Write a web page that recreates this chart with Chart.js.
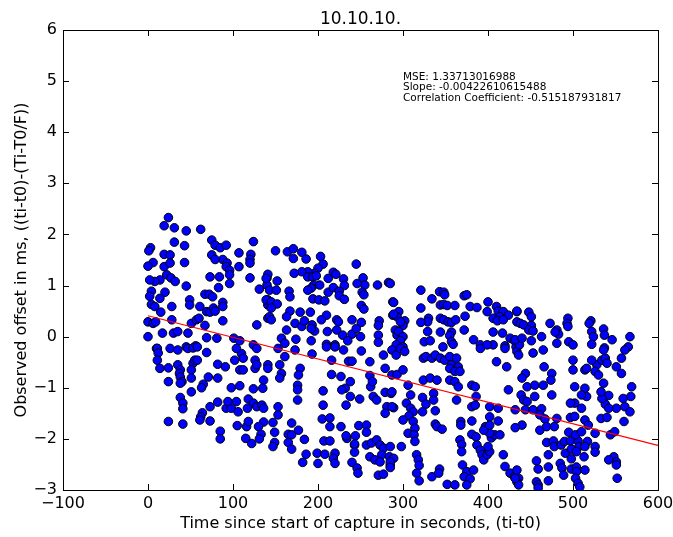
<!DOCTYPE html>
<html>
<head>
<meta charset="utf-8">
<script src="https://cdn.jsdelivr.net/npm/chart.js@4"></script>
<style>
  html, body { margin: 0; padding: 0; background: #fff; overflow: hidden; }
  #wrap { width: 673px; height: 537px; }
  canvas { display: block; }
</style>
</head>
<body>
<div id="wrap"><canvas id="offsetChart" width="673" height="537"></canvas></div>
<script>
// observed offsets: [time since start (s), offset (ms)]
const samples = [
  [24,2.33],[19,2.17],[31,2.13],[45,2.07],[62,2.10],[75,1.89],[79,1.79],[85,1.74],[92,1.79],[31,1.85],
  [43,1.78],[3,1.74],[19,1.61],[26,1.60],[75,1.60],[107,1.64],[124,1.86],[121,1.61],[88,1.51],[93,1.44],
  [79,1.51],[120,1.51],[120,1.44],[6,1.45],[0,1.38],[19,1.37],[26,1.44],[43,1.45],[92,1.37],[96,1.30],
  [107,1.37],[22,1.21],[27,1.15],[14,1.11],[8,1.08],[2,1.11],[32,1.08],[45,0.99],[73,1.17],[84,1.17],
  [96,1.21],[96,1.04],[120,1.15],[140,1.15],[140,1.01],[131,0.93],[83,0.96],[67,0.83],[72,0.83],[76,0.78],
  [4,0.89],[20,0.87],[14,0.75],[49,0.72],[49,0.62],[61,0.59],[69,0.49],[73,0.48],[88,0.67],[88,0.59],
  [77,0.56],[79,0.50],[141,0.72],[141,0.62],[4,0.63],[8,0.59],[28,0.59],[15,0.48],[0,0.29],[6,0.26],
  [9,0.29],[28,0.33],[51,0.26],[57,0.33],[60,0.36],[67,0.22],[88,0.31],[128,0.23],[141,0.36],[0,0],
  [17,0.07],[30,0.07],[35,0.10],[47,0.07],[69,-0.02],[81,-0.03],[101,-0.03],[108,-0.08],[10,-0.23],[26,-0.23],
  [45,-0.20],[56,-0.18],[124,-0.16],[128,-0.23],[1,1.68],[2,0.79],
  [11,-0.23],[12,-0.32],[11,-0.46],[14,-0.62],[35,-0.26],[47,-0.23],[53,-0.22],[58,-0.20],[69,-0.31],[24,-0.61],
  [35,-0.55],[38,-0.65],[37,-0.72],[38,-0.79],[40,-0.88],[38,-0.91],[53,-0.52],[55,-0.46],[51,-0.65],[51,-0.81],
  [58,-0.46],[24,-0.88],[71,-0.79],[65,-0.93],[63,-1.00],[82,-0.54],[91,-0.59],[82,-0.81],[51,-1.08],[38,-1.19],
  [41,-1.30],[41,-1.41],[73,-1.37],[64,-1.49],[62,-1.57],[61,-1.63],[73,-1.65],[24,-1.66],[41,-1.71],[82,-1.28],
  [85,-1.85],[85,-2.00],[98,-1.00],[108,-0.96],[102,-0.46],[110,-0.33],[112,-0.42],[108,-0.65],[112,-0.65],[104,-0.23],
  [126,-0.46],[126,-0.62],[128,-0.55],[136,-0.85],[124,-1.02],[135,-1.01],[92,-1.40],[98,-1.40],[104,-1.27],[106,-1.47],
  [94,-1.27],[118,-1.22],[124,-1.30],[128,-1.37],[134,-1.34],[136,-1.40],[117,-1.40],[136,-1.67],[130,-1.76],[116,-1.76],
  [118,-1.66],[105,-1.74],[133,-1.91],[131,-2.00],[122,-2.09],[115,-1.99],
  [150,1.68],[164,1.66],[171,1.72],[171,1.53],[181,1.65],[186,1.52],[203,1.57],[206,1.42],[200,1.34],[196,1.24],
  [188,1.27],[181,1.27],[172,1.24],[188,1.17],[194,1.17],[198,1.19],[212,1.14],[218,1.26],[221,1.22],[230,1.13],
  [231,1.00],[245,1.42],[253,1.15],[255,1.01],[246,1.04],[270,1.01],[283,1.06],[195,1.01],[202,1.01],[192,0.95],
  [188,0.91],[212,0.87],[218,0.96],[225,0.89],[225,0.80],[143,0.91],[151,0.91],[152,1.09],[141,1.22],[139,1.14],
  [166,0.89],[167,0.78],[139,0.72],[145,0.68],[152,0.64],[194,0.74],[201,0.72],[208,0.70],[231,0.73],[252,0.87],
  [254,0.82],[251,0.61],[254,0.54],[288,0.68],[288,0.42],[145,0.56],[167,0.50],[179,0.48],[191,0.48],[210,0.42],
  [204,0.33],[222,0.33],[224,0.29],[240,0.33],[251,0.28],[272,0.31],[271,0.22],[163,0.39],[173,0.26],[181,0.20],
  [184,0.31],[193,0.23],[196,0.11],[192,0.16],[143,0.39],[145,0.33],[163,0.13],[211,0.10],[222,0.13],[229,0.03],
  [240,0.05],[245,0.16],[250,0],[271,0.03],[271,-0.11],[174,-0.05],[192,-0.08],[157,-0.03],[161,-0.13],[210,-0.15],
  [220,-0.16],[235,-0.08],
  [153,-0.23],[161,-0.39],[173,-0.26],[193,-0.34],[210,-0.20],[220,-0.20],[230,-0.26],[251,-0.28],[141,-0.55],[141,-0.62],
  [155,-0.55],[157,-0.72],[155,-0.81],[179,-0.62],[177,-0.75],[176,-0.95],[176,-1.04],[176,-1.24],[216,-0.46],[216,-0.74],
  [227,-0.78],[236,-0.48],[240,-0.48],[238,-0.88],[232,-1.01],[228,-1.04],[238,-1.17],[233,-1.34],[249,-1.22],[261,-0.49],
  [261,-0.76],[262,-0.98],[265,-1.17],[269,-1.24],[264,-0.88],[277,-0.36],[279,-0.62],[279,-1.09],[281,-1.37],[279,-1.50],
  [286,-1.11],[289,-1.39],[206,-1.06],[206,-1.34],[205,-1.61],[214,-1.59],[214,-1.76],[227,-1.76],[234,-1.99],[244,-1.94],
  [243,-2.12],[248,-1.74],[257,-1.73],[257,-1.87],[153,-1.37],[153,-1.53],[147,-1.68],[149,-1.87],[149,-2.07],[147,-2.15],
  [169,-1.69],[165,-1.91],[169,-1.92],[165,-2.07],[169,-2.20],[177,-1.83],[184,-2.01],[207,-2.04],[214,-2.04],[186,-2.30],
  [199,-2.28],[208,-2.30],[220,-2.28],[218,-2.38],[220,-2.48],[200,-2.48],[182,-2.46],[233,-1.94],[243,-2.10],[243,-2.26],
  [240,-2.46],[246,-2.57],[247,-2.67],[257,-2.12],[263,-2.08],[269,-2.02],[273,-2.12],[277,-2.18],[275,-2.31],[261,-2.35],
  [267,-2.41],[273,-2.45],[271,-2.71],[277,-2.69],[284,-2.35],[285,-2.51],[289,-2.38],
  [285,1.04],[321,0.91],[334,0.74],[343,0.88],[348,0.87],[349,0.82],[372,0.80],[375,0.82],[344,0.62],[348,0.63],
  [352,0.61],[361,0.61],[379,0.59],[387,0.57],[400,0.68],[289,0.67],[321,0.56],[295,0.49],[293,0.39],[289,0.44],
  [399,0.49],[410,0.59],[412,0.50],[418,0.49],[424,0.42],[414,0.39],[406,0.36],[411,0.31],[418,0.33],[434,0.49],
  [330,0.36],[329,0.29],[321,0.28],[344,0.36],[348,0.33],[353,0.29],[357,0.28],[362,0.33],[373,0.40],[302,0.31],
  [300,0.22],[297,0.29],[291,0.13],[293,0.03],[295,0.10],[300,0],[297,-0.08],[292,-0.16],[300,-0.20],[329,0.10],
  [344,0.09],[357,0.09],[355,0.02],[357,-0.10],[359,-0.15],[372,0.13],[383,-0.06],[391,-0.16],[325,-0.10],[332,-0.08],
  [347,-0.20],[406,0.09],[417,0.07],[426,-0.03],[431,-0.08],[434,0.29],[406,-0.16],[420,-0.18],[433,-0.20],
  [287,-0.26],[292,-0.36],[297,-0.23],[302,-0.29],[287,-0.75],[293,-0.74],[300,-0.65],[287,-1.08],[287,-1.37],[306,-0.95],
  [309,-1.14],[304,-1.30],[309,-1.40],[312,-1.47],[307,-1.55],[300,-1.63],[312,-1.66],[306,-1.89],[314,-1.79],[313,-1.92],
  [314,-2.05],[298,-2.15],[285,-2.15],[285,-2.45],[285,-2.56],[316,-2.31],[318,-2.41],[319,-2.52],[316,-2.67],[319,-2.82],
  [324,-0.42],[327,-0.39],[334,-0.42],[338,-0.36],[344,-0.42],[349,-0.46],[355,-0.39],[357,-0.55],[363,-0.42],[365,-0.59],
  [355,-0.62],[361,-0.68],[367,-0.68],[324,-0.85],[332,-0.81],[340,-0.85],[355,-0.85],[361,-0.88],[365,-0.98],[323,-1.19],
  [327,-1.32],[323,-1.47],[336,-1.11],[336,-1.24],[338,-1.45],[338,-1.71],[340,-1.76],[346,-1.81],[363,-1.24],[368,-1.66],
  [368,-1.73],[367,-2.02],[369,-2.11],[369,-2.25],[370,-2.51],[381,-1.37],[381,-1.65],[381,-1.91],[386,-1.96],[387,-2.12],
  [391,-2.22],[393,-2.31],[395,-2.41],[399,-2.31],[402,-2.25],[400,-2.15],[404,-1.98],[408,-1.92],[402,-1.89],[397,-1.76],
  [395,-1.83],[381,-0.95],[385,-1.34],[402,-1.37],[402,-1.57],[402,-1.73],[412,-1.40],[412,-1.65],[414,-1.92],[418,-2.31],
  [420,-2.54],[426,-2.67],[431,-2.74],[436,-2.77],[375,-2.64],[383,-2.61],[372,-2.74],[379,-2.78],[334,-2.74],[343,-2.59],
  [342,-2.67],[352,-2.89],[361,-2.90],[375,-2.90],[385,-0.98],[386,-1.17],[391,-0.23],[399,-0.16],[410,-0.49],[422,-0.59],
  [420,-0.23],[434,-0.29],[437,-0.16],[424,-1.04],
  [434,0.50],[448,0.48],[451,0.39],[438,0.26],[442,0.23],[451,0.22],[448,0.13],[453,0.11],[473,0.26],[481,0.13],
  [483,0.05],[479,0.09],[494,0.36],[493,0.26],[494,0.20],[521,0.31],[519,0.26],[522,0.10],[524,0],[536,0.15],
  [537,0.03],[546,-0.06],[567,0],[565,-0.20],[432,-0.06],[440,-0.03],[451,-0.08],[463,0],[481,-0.13],[495,-0.10],
  [500,-0.16],[522,-0.15],[537,-0.22],
  [436,-0.36],[444,-0.72],[440,-0.81],[453,-0.32],[465,-0.26],[446,-0.98],[455,-0.95],[465,-0.95],[455,-1.17],[439,-1.14],
  [442,-1.24],[446,-1.27],[466,-0.59],[475,-0.72],[474,-0.85],[475,-1.14],[432,-1.43],[444,-1.43],[453,-1.43],[463,-1.41],
  [461,-1.53],[467,-1.61],[440,-1.73],[432,-1.78],[461,-1.83],[469,-1.76],[478,-1.76],[481,-1.60],[469,-2.07],[477,-2.04],
  [478,-2.15],[486,-2.12],[490,-2.05],[491,-2.28],[497,-2.04],[498,-2.20],[506,-2.04],[507,-2.15],[504,-2.25],[513,-2.35],
  [498,-2.39],[495,-1.87],[503,-1.92],[510,-1.86],[517,-2.05],[526,-2.15],[526,-2.26],[514,-2.15],[471,-2.31],[485,-2.48],
  [487,-2.57],[498,-2.59],[504,-2.55],[504,-2.64],[514,-2.61],[503,-2.77],[506,-2.87],[508,-2.94],[489,-2.71],[471,-2.55],
  [471,-2.82],[457,-2.43],[459,-2.59],[457,-2.84],[459,-2.90],[459,-2.96],[434,-2.61],[434,-2.84],[436,-2.90],[432,-2.77],
  [500,-0.46],[500,-0.65],[514,-0.65],[516,-0.62],[528,-0.55],[534,-0.46],[538,-0.42],[540,-0.52],[536,-0.26],[561,-0.26],
  [557,-0.42],[551,-0.59],[557,-0.72],[569,-0.98],[568,-1.17],[559,-1.21],[561,-1.37],[567,-1.47],[560,-1.66],[551,-1.40],
  [542,-1.15],[538,-1.32],[542,-1.40],[534,-1.21],[533,-1.08],[536,-0.91],[526,-0.68],[530,-0.75],[514,-1.01],[516,-1.17],
  [510,-1.14],[502,-0.98],[502,-1.30],[497,-1.30],[510,-1.40],[514,-1.63],[518,-1.73],[526,-1.89],[533,-1.60],[540,-1.58],
  [544,-1.92],[549,-1.86],[497,-1.58],[502,-1.56],[548,-2.35],[551,-2.45],[551,-2.51],[542,-2.41],[552,-2.77],[522,-0.46]
];

// least squares fit shown in red
const fitIntercept = 0.41;
const fitSlope = -0.00422610615488;
const fitRange = [0, 600];

const xTicks = [-100, 0, 100, 200, 300, 400, 500, 600];
const yTicks = [-3, -2, -1, 0, 1, 2, 3, 4, 5, 6];

const statsLines = [
  "MSE: 1.33713016988",
  "Slope: -0.00422610615488",
  "Correlation Coefficient: -0.515187931817"
];
const statsAnchor = { x: 300, y: 5.18 };

const FONT = "'DejaVu Sans', sans-serif";
const fmt = v => (v < 0 ? "\u2212" + Math.abs(v) : String(v));

// matplotlib style frame: box, inward ticks on all sides, title, stats text
const mplFrame = {
  id: "mplFrame",
  afterDraw(chart) {
    const { ctx, chartArea: a, scales } = chart;
    const len = 6;
    ctx.save();
    ctx.strokeStyle = "#000";
    ctx.lineWidth = 1;
    ctx.strokeRect(Math.round(a.left) + 0.5, Math.round(a.top) + 0.5,
      Math.round(a.right - a.left), Math.round(a.bottom - a.top));
    ctx.beginPath();
    xTicks.forEach(v => {
      const px = Math.round(scales.x.getPixelForValue(v)) + 0.5;
      ctx.moveTo(px, a.bottom); ctx.lineTo(px, a.bottom - len);
      ctx.moveTo(px, a.top); ctx.lineTo(px, a.top + len);
    });
    yTicks.forEach(v => {
      const py = Math.round(scales.y.getPixelForValue(v)) + 0.5;
      ctx.moveTo(a.left, py); ctx.lineTo(a.left + len, py);
      ctx.moveTo(a.right, py); ctx.lineTo(a.right - len, py);
    });
    ctx.stroke();

    ctx.fillStyle = "#000";
    ctx.font = "17px " + FONT;
    ctx.textAlign = "center";
    ctx.textBaseline = "alphabetic";
    ctx.fillText("10.10.10.", (a.left + a.right) / 2, a.top - 6);

    ctx.font = "10.5px " + FONT;
    ctx.textAlign = "left";
    ctx.textBaseline = "top";
    const sx = scales.x.getPixelForValue(statsAnchor.x);
    const sy = scales.y.getPixelForValue(statsAnchor.y);
    statsLines.forEach((t, i) => ctx.fillText(t, sx, sy + i * 10.5));
    ctx.restore();
  }
};

const ctx = document.getElementById("offsetChart").getContext("2d");
new Chart(ctx, {
  type: "scatter",
  data: {
    datasets: [
      {
        type: "line",
        data: fitRange.map(x => ({ x, y: fitIntercept + fitSlope * x })),
        borderColor: "#ff0000",
        borderWidth: 1.2,
        pointRadius: 0,
        fill: false
      },
      {
        data: samples.map(([x, y]) => ({ x, y })),
        backgroundColor: "#0000ff",
        borderColor: "#000000",
        borderWidth: 1,
        pointRadius: 4.3
      }
    ]
  },
  options: {
    responsive: false,
    animation: false,
    devicePixelRatio: 1,
    layout: { autoPadding: false, padding: { top: 30, right: 15, left: 0, bottom: 0 } },
    plugins: { legend: { display: false }, tooltip: { enabled: false } },
    scales: {
      x: {
        type: "linear",
        min: -100,
        max: 600,
        afterBuildTicks: s => { s.ticks = xTicks.map(value => ({ value })); },
        afterFit: s => { s.height = 47; s.paddingLeft = 0; s.paddingRight = 0; },
        grid: { display: false, drawTicks: false },
        border: { display: false },
        ticks: { color: "#000", padding: 4, maxRotation: 0, font: { family: FONT, size: 16 }, callback: fmt },
        title: {
          display: true,
          text: "Time since start of capture in seconds, (ti-t0)",
          color: "#000",
          font: { family: FONT, size: 16 },
          padding: { top: 0, bottom: 4 }
        }
      },
      y: {
        type: "linear",
        min: -3,
        max: 6,
        afterBuildTicks: s => { s.ticks = yTicks.map(value => ({ value })); },
        afterFit: s => { s.width = 63; s.paddingTop = 0; s.paddingBottom = 0; },
        grid: { display: false, drawTicks: false },
        border: { display: false },
        ticks: { color: "#000", padding: 6, font: { family: FONT, size: 16 }, callback: fmt },
        title: {
          display: true,
          text: "Observed offset in ms, ((ti-t0)-(Ti-T0/F))",
          color: "#000",
          font: { family: FONT, size: 16 },
          padding: { top: 12, bottom: 0 }
        }
      }
    }
  },
  plugins: [mplFrame]
});
</script>
</body>
</html>
